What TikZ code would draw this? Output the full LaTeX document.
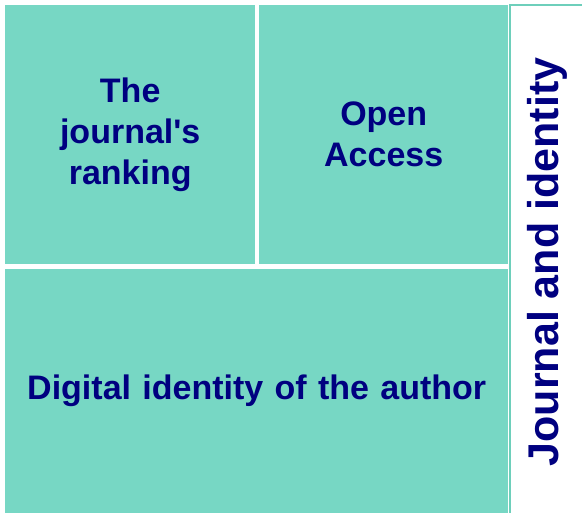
\documentclass[tikz,border=0pt]{standalone}
\usepackage{fontspec}
\setmainfont{Liberation Sans}
\definecolor{tealfill}{HTML}{77D7C4}
\definecolor{tealline}{HTML}{6ECFBB}
\definecolor{navy}{HTML}{000080}
\begin{document}
\begin{tikzpicture}[x=1pt,y=1pt,
  cell/.style={fill=tealfill, draw=none, inner sep=0pt, anchor=south west,
    text=navy, align=center, font=\fontsize{34}{41}\selectfont\bfseries}]
\useasboundingbox (0,0) rectangle (582,513);
\fill[white] (0,0) rectangle (582,513);
\node[cell, minimum width=250, minimum height=259, text width=240] (rank) at (5,249) {The\\journal\textquotesingle s\\ranking};
\node[cell, minimum width=249, minimum height=259, text width=240] (oa) at (259,249) {Open\\Access};
\node[cell, minimum width=503, minimum height=244, text width=495] (dig) at (5,0) {Digital identity of the author};
\node[draw=tealline, line width=2pt, fill=white, minimum width=80, minimum height=515, anchor=south west, inner sep=0pt] (jr) at (509,-8) {};
\node[rotate=90, text=navy, font=\fontsize{43}{50}\selectfont\bfseries] (jrt) at (547,251) {Journal and identity};
\end{tikzpicture}
\end{document}
